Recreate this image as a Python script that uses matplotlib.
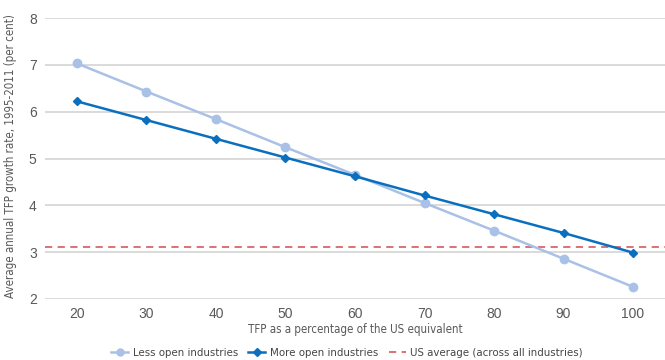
import matplotlib
matplotlib.use("Agg")
import matplotlib.pyplot as plt
from matplotlib.lines import Line2D

x_vals = [20, 30, 40, 50, 60, 70, 80, 90, 100]
less_open = [7.03, 6.43, 5.84, 5.24, 4.65, 4.05, 3.46, 2.86, 2.26]
more_open = [6.22, 5.82, 5.42, 5.02, 4.62, 4.21, 3.81, 3.41, 2.99]
us_average = 3.10
y_ticks = [2, 3, 4, 5, 6, 7, 8]

txt = "#595959"
fig = plt.figure(figsize=(6.65, 3.6), dpi=100)
ax = fig.add_axes([45/665, 61/360, 620/665, 281/360])

for y in y_ticks:
    ax.axhline(y, color="#D4D4D4", lw=1.2, zorder=0)

ax.plot(x_vals, less_open, color="#A9C1E6", lw=1.8, marker="o", markersize=6,
        label="Less open industries", zorder=3)
ax.plot(x_vals, more_open, color="#0A6FBE", lw=1.8, marker="D", markersize=4,
        label="More open industries", zorder=4)
ax.axhline(us_average, color="#D9666A", lw=1.3, ls=(0, (4, 3)), zorder=2)

ax.set_xlim(15.4, 104.6)
ax.set_ylim(2, 8)
ax.set_xticks(x_vals)
ax.set_yticks(y_ticks)
for s in ax.spines.values():
    s.set_visible(False)
ax.tick_params(length=0, colors=txt, labelsize=10, pad=6)
for lab in ax.get_xticklabels() + ax.get_yticklabels():
    lab.set_family(["Liberation Sans", "DejaVu Sans"])

font_n = ["DejaVu Sans"]
ax.set_xlabel("TFP as a percentage of the US equivalent", color=txt, fontsize=8.3,
              family=font_n, stretch="condensed", labelpad=1)
ax.set_ylabel("Average annual TFP growth rate, 1995-2011 (per cent)", color=txt,
              fontsize=8.3, family=font_n, stretch="condensed")
ax.yaxis.set_label_coords(-28/620, 0.51)

handles = [
    Line2D([], [], color="#A9C1E6", lw=1.8, marker="o", markersize=5),
    Line2D([], [], color="#0A6FBE", lw=1.8, marker="D", markersize=4),
    Line2D([], [], color="#D9666A", lw=1.3, ls=(0, (4, 3))),
]
labels = ["Less open industries", "More open industries",
          "US average (across all industries)"]
leg = fig.legend(handles, labels, loc="center", bbox_to_anchor=(347/665, 7/360),
                 ncol=3, frameon=False, handlelength=1.5, handletextpad=0.4,
                 columnspacing=0.9,
                 prop={"family": font_n, "size": 8.2, "stretch": "condensed"})
for t in leg.get_texts():
    t.set_color("#454545")

fig.savefig("out.png", dpi=100)
